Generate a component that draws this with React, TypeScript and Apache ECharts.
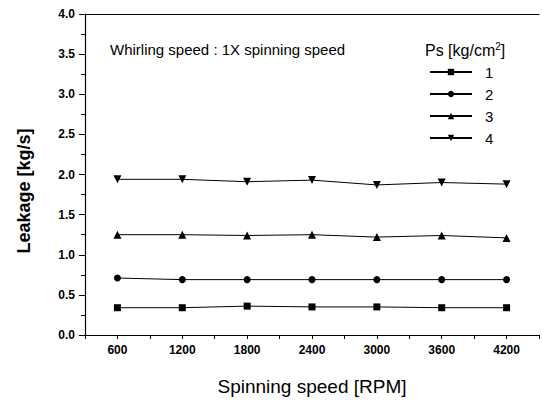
import React, { useEffect, useRef } from "react";
import * as echarts from "echarts";

const speeds = [600, 1200, 1800, 2400, 3000, 3600, 4200];
const ps1 = [0.34, 0.34, 0.36, 0.35, 0.35, 0.34, 0.34];
const ps2 = [0.71, 0.69, 0.69, 0.69, 0.69, 0.69, 0.69];
const ps3 = [1.25, 1.25, 1.24, 1.25, 1.22, 1.24, 1.21];
const ps4 = [1.94, 1.94, 1.91, 1.93, 1.87, 1.90, 1.88];
const seriesNames = ["1", "2", "3", "4"];

const FONT = "Liberation Sans, Arial, sans-serif";

export default function App() {
  const ref = useRef<HTMLDivElement>(null);
  useEffect(() => {
    document.body.style.margin = "0";
    const chart = echarts.init(ref.current!, null, { renderer: "svg" });
    const mk = (name: string, vals: number[], symbol: string, size: number, rot = 0) => ({
      name,
      type: "line",
      data: speeds.map((s, i) => [s, vals[i]]),
      symbol,
      symbolSize: size,
      symbolRotate: rot,
      lineStyle: { color: "#000", width: 1 },
      itemStyle: { color: "#000" },
    });
    chart.setOption({
      animation: false,
      backgroundColor: "#fff",
      grid: { left: 85, right: 3, top: 14, bottom: 54 },
      legend: {
        orient: "vertical",
        left: 424,
        top: 59,
        itemWidth: 42,
        itemHeight: 8,
        itemGap: 6,
        data: seriesNames,
        textStyle: { fontFamily: FONT, fontSize: 15, color: "#000", lineHeight: 16, padding: [0, 0, 0, 8] },
      },
      xAxis: [
        {
          type: "value",
          min: 300,
          max: 4500,
          interval: 300,
          position: "bottom",
          axisLine: { lineStyle: { color: "#000", width: 1.2 } },
          axisTick: { length: 4, lineStyle: { color: "#000" } },
          splitLine: { show: false },
          axisLabel: {
            margin: 9,
            fontFamily: FONT,
            fontSize: 12,
            fontWeight: "bold",
            color: "#000",
            formatter: (v: number) => (v % 600 === 0 ? String(v) : ""),
          },
          name: "Spinning speed [RPM]",
          nameLocation: "middle",
          nameGap: 42,
          nameTextStyle: { fontFamily: FONT, fontSize: 19, color: "#000" },
        },
        {
          type: "value",
          min: 300,
          max: 4500,
          position: "top",
          axisLine: { show: true, lineStyle: { color: "#000", width: 1.2 } },
          axisTick: { show: false },
          axisLabel: { show: false },
          splitLine: { show: false },
        },
      ],
      yAxis: {
        type: "value",
        min: 0,
        max: 4,
        interval: 0.5,
        axisLine: { show: true, lineStyle: { color: "#000", width: 1.2 } },
        axisTick: { show: true, length: 6, lineStyle: { color: "#000" } },
        minorTick: { show: true, splitNumber: 2, length: 4, lineStyle: { color: "#000" } },
        splitLine: { show: false },
        axisLabel: {
          margin: 10,
          fontFamily: FONT,
          fontSize: 12,
          fontWeight: "bold",
          color: "#000",
          formatter: (v: number) => v.toFixed(1),
        },
      },
      graphic: [
        {
          type: "text",
          x: 24,
          y: 191,
          rotation: Math.PI / 2,
          style: {
            text: "Leakage [kg/s]",
            fontFamily: FONT,
            fontSize: 18,
            fontWeight: "bold",
            fill: "#000",
            align: "center",
            verticalAlign: "middle",
          },
        },
        {
          type: "text",
          x: 110,
          y: 49,
          style: {
            text: "Whirling speed : 1X spinning speed",
            fontFamily: FONT,
            fontSize: 15,
            fill: "#000",
            align: "left",
            verticalAlign: "middle",
          },
        },
        {
          type: "text",
          x: 425,
          y: 50,
          style: {
            text: "Ps [kg/cm{sup|2}]",
            rich: { sup: { fontSize: 10, verticalAlign: "top", padding: [0, 0, 8, 0] } },
            fontFamily: FONT,
            fontSize: 16,
            fill: "#000",
            align: "left",
            verticalAlign: "middle",
          },
        },
      ],
      series: [
        mk(seriesNames[0], ps1, "rect", 7),
        mk(seriesNames[1], ps2, "circle", 7),
        mk(seriesNames[2], ps3, "triangle", 8),
        mk(seriesNames[3], ps4, "triangle", 8, 180),
      ],
    });
    return () => chart.dispose();
  }, []);
  return <div ref={ref} style={{ width: 542, height: 401 }} />;
}
